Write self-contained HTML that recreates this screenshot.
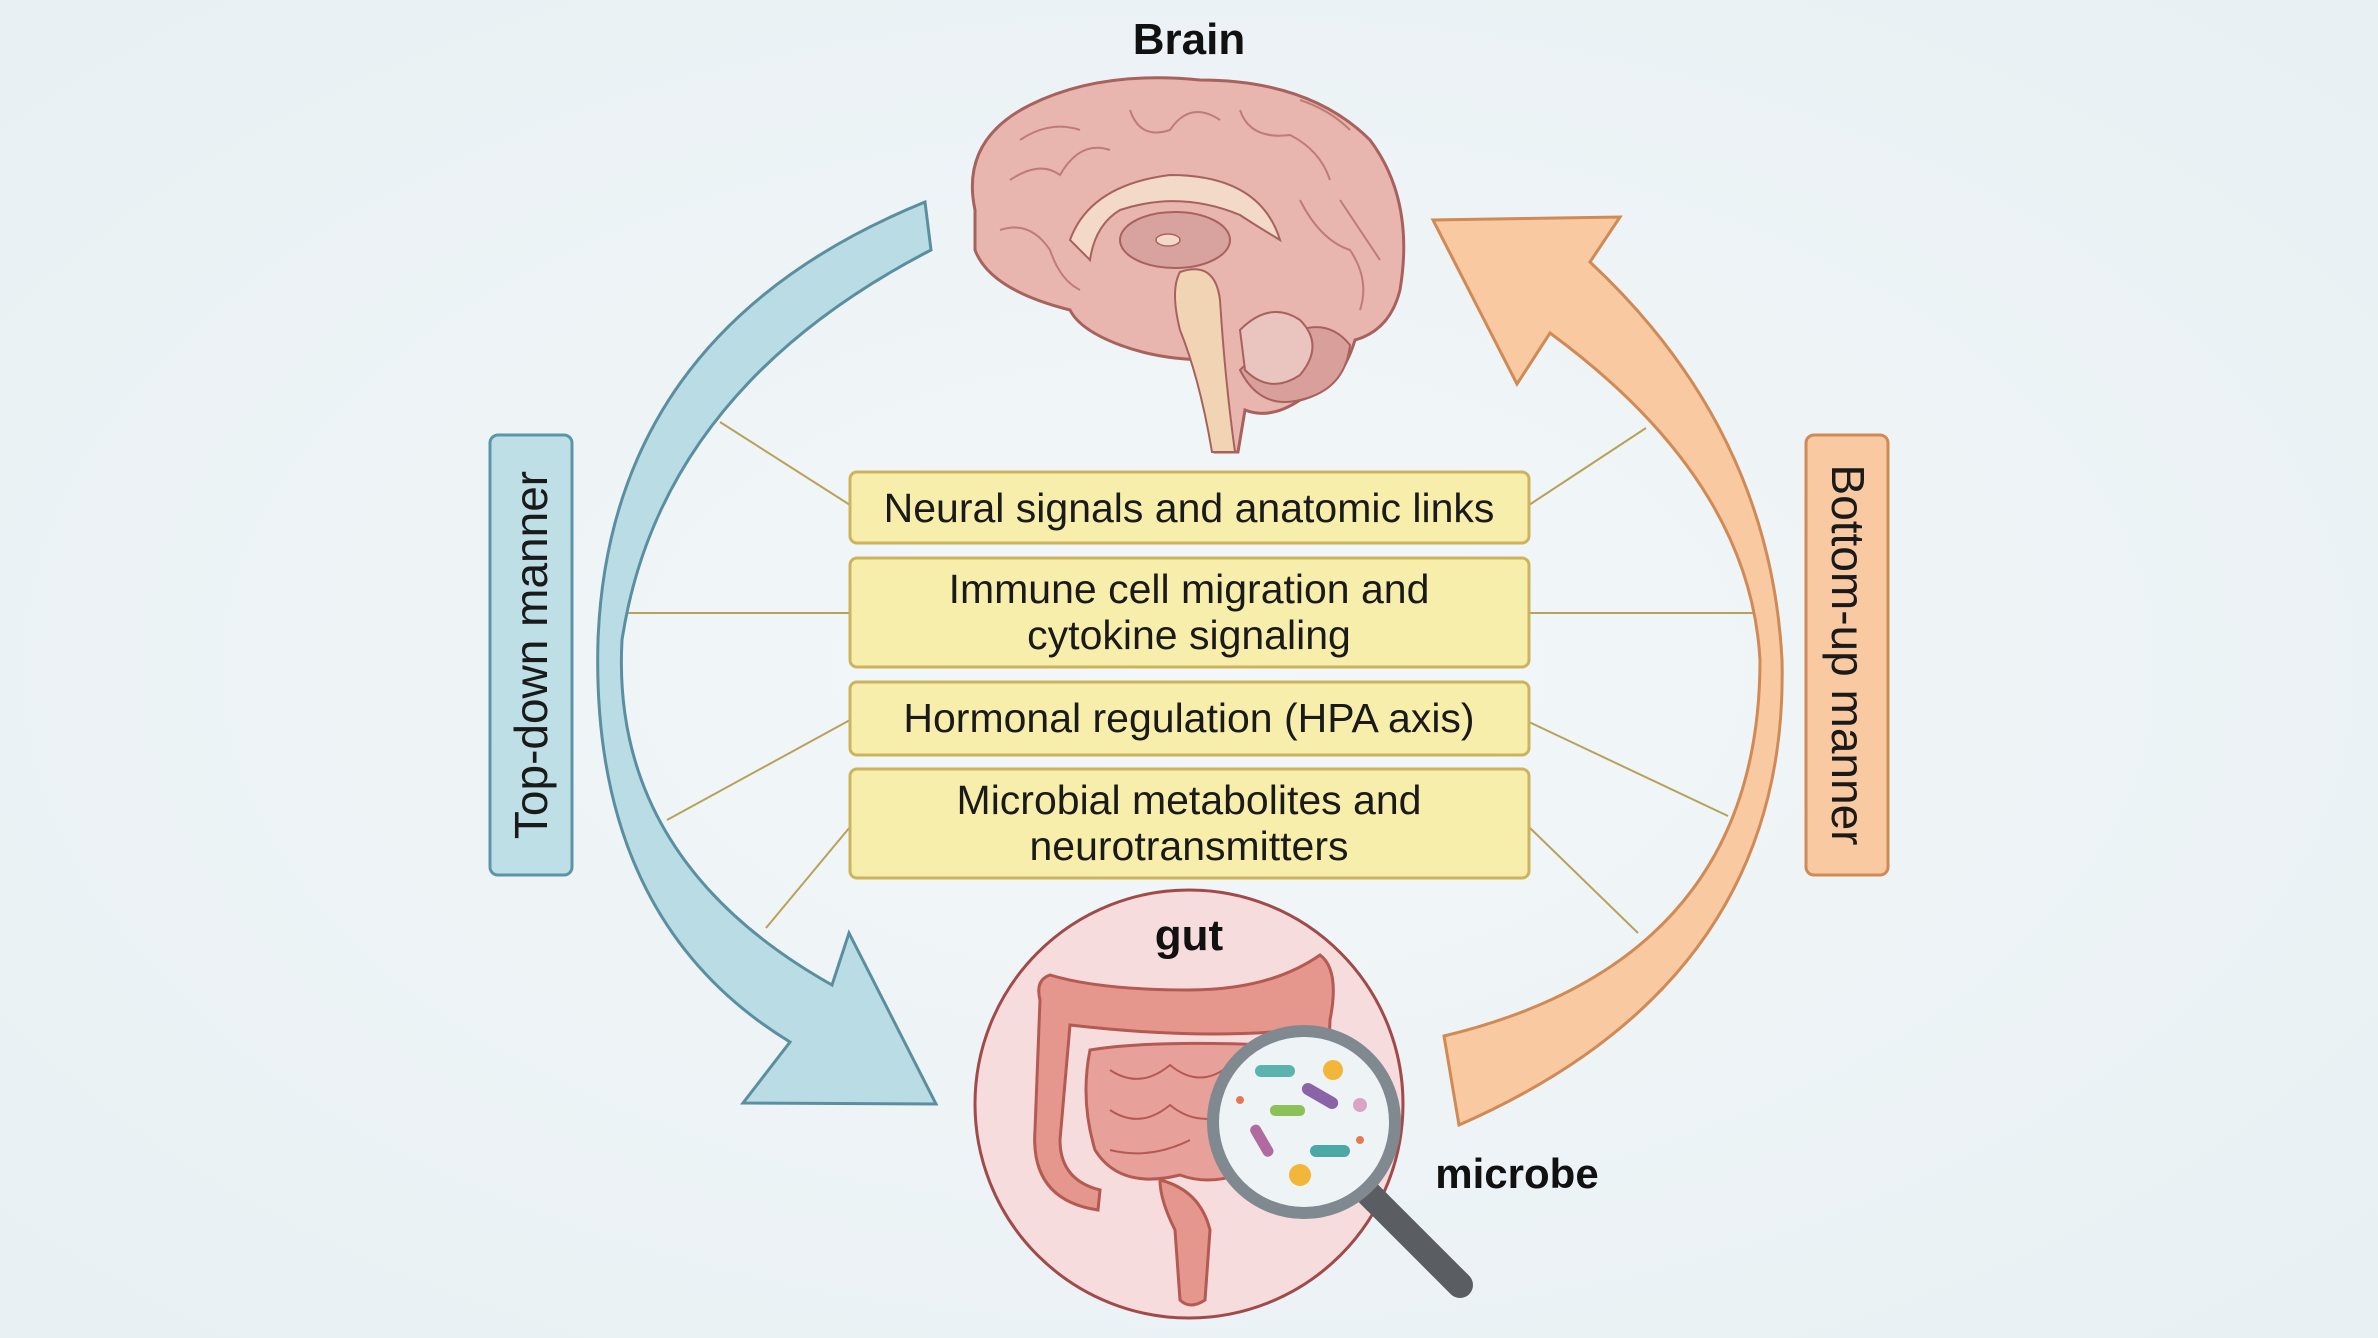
<!DOCTYPE html>
<html><head><meta charset="utf-8"><style>
html,body{margin:0;padding:0}
body{width:2378px;height:1338px;overflow:hidden;background:#eef3f6}
svg{display:block}
text{font-family:"Liberation Sans",sans-serif}
</style></head><body>
<svg width="2378" height="1338" viewBox="0 0 2378 1338" xmlns="http://www.w3.org/2000/svg">
<defs>
<radialGradient id="bg" cx="50%" cy="50%" r="70%"><stop offset="0" stop-color="#f3f7f9"/><stop offset="1" stop-color="#e8f0f3"/></radialGradient>
</defs>
<rect width="2378" height="1338" fill="url(#bg)"/>

<g stroke="#b8a25a" stroke-width="2">
<line x1="720" y1="422" x2="850" y2="505"/>
<line x1="622" y1="613" x2="850" y2="613"/>
<line x1="667" y1="820" x2="850" y2="720"/>
<line x1="766" y1="928" x2="850" y2="827"/>
<line x1="1529" y1="505" x2="1646" y2="428"/>
<line x1="1529" y1="613" x2="1760" y2="613"/>
<line x1="1529" y1="722" x2="1728" y2="816"/>
<line x1="1529" y1="827" x2="1638" y2="933"/>
</g>

<path d="M925,202 L931,250 Q660,390 622,640 Q610,860 832,985 L849,933 L936,1104 L743,1103 L790,1042 Q590,920 598,640 Q610,330 925,202 Z" fill="#b9dce5" stroke="#5b8fa0" stroke-width="3" stroke-linejoin="miter"/>

<path d="M1444,1036 L1459,1125 Q1790,980 1782,660 Q1770,430 1590,262 L1620,217 L1433,220 L1517,384 L1550,333 Q1750,480 1760,660 Q1760,960 1444,1036 Z" fill="#f9c9a2" stroke="#d08a55" stroke-width="3"/>

<rect x="490" y="435" width="82" height="440" rx="8" fill="#bfdfe7" stroke="#5b96a8" stroke-width="3"/>
<text transform="translate(547,655) rotate(-90)" text-anchor="middle" font-size="46" fill="#1a1a1a">Top-down manner</text>
<rect x="1806" y="435" width="82" height="440" rx="8" fill="#f9c9a2" stroke="#d08a55" stroke-width="3"/>
<text transform="translate(1832,655) rotate(90)" text-anchor="middle" font-size="46" fill="#1a1a1a">Bottom-up manner</text>

<g fill="#f8eeab" stroke="#cbb45c" stroke-width="3">
<rect x="850" y="472" width="679" height="71" rx="7"/>
<rect x="850" y="558" width="679" height="109" rx="7"/>
<rect x="850" y="682" width="679" height="73" rx="7"/>
<rect x="850" y="769" width="679" height="109" rx="7"/>
</g>
<g font-size="41" fill="#1a1a1a" text-anchor="middle">
<text x="1189" y="522">Neural signals and anatomic links</text>
<text x="1189" y="603">Immune cell migration and</text>
<text x="1189" y="649">cytokine signaling</text>
<text x="1189" y="732">Hormonal regulation (HPA axis)</text>
<text x="1189" y="814">Microbial metabolites and</text>
<text x="1189" y="860">neurotransmitters</text>
</g>

<text x="1189" y="54" text-anchor="middle" font-size="44" font-weight="bold" fill="#111">Brain</text>
<g stroke="#a8625e" stroke-width="3">
<path d="M975,210 Q960,140 1030,105 Q1100,70 1200,80 Q1310,80 1370,140 Q1415,200 1400,290 Q1390,330 1355,340 Q1340,390 1300,400 Q1270,420 1245,410 L1238,452 L1215,452 Q1210,400 1210,360 Q1160,360 1120,345 Q1080,330 1070,310 Q990,290 975,250 Z" fill="#e9b5af"/>
<path d="M1300,330 Q1330,320 1350,345 Q1345,390 1300,400 Q1260,410 1240,370 Q1270,340 1300,330 Z" fill="#d9a09b" stroke-width="2"/>
<path d="M1240,330 Q1270,300 1300,320 Q1325,345 1300,375 Q1270,395 1245,370 Z" fill="#eac4bf" stroke-width="2"/>
<path d="M1070,240 Q1090,185 1170,175 Q1260,175 1280,240 Q1255,225 1240,215 Q1180,190 1120,210 Q1095,225 1090,260 Z" fill="#f2d9c8" stroke-width="2"/>
<ellipse cx="1175" cy="240" rx="55" ry="28" fill="#d8a39e" stroke-width="2"/>
<ellipse cx="1168" cy="240" rx="12" ry="6" fill="#f2d9c8" stroke-width="1.5"/>
<path d="M1180,272 Q1215,260 1220,300 Q1225,380 1235,452 L1212,452 Q1200,380 1180,330 Q1170,290 1180,272 Z" fill="#f0d4b4" stroke-width="2"/>
</g>
<g fill="none" stroke="#b56e68" stroke-width="2" opacity="0.8">
<path d="M1010,180 Q1040,160 1060,175 Q1080,140 1110,150"/>
<path d="M1130,110 Q1140,140 1170,130 Q1190,100 1220,120"/>
<path d="M1240,110 Q1250,140 1290,135 Q1320,150 1330,180"/>
<path d="M1340,200 Q1360,230 1380,260"/>
<path d="M1000,230 Q1030,220 1050,250 Q1060,280 1080,290"/>
<path d="M1300,200 Q1320,240 1350,250 Q1370,280 1360,310"/>
<path d="M1020,140 Q1050,120 1080,130"/>
<path d="M1300,100 Q1330,110 1350,130"/>
</g>

<circle cx="1189" cy="1104" r="214" fill="#f6dcdc" stroke="#a04a4a" stroke-width="3"/>
<text x="1189" y="950" text-anchor="middle" font-size="44" font-weight="bold" fill="#111">gut</text>
<g stroke="#b45a52" stroke-width="3" fill="#e5968d">
<path d="M1050,975 Q1100,990 1189,990 Q1270,990 1320,955 Q1340,970 1330,1020 L1325,1150 Q1300,1180 1290,1150 L1295,1030 Q1200,1040 1070,1025 L1060,1140 Q1060,1180 1100,1190 L1098,1210 Q1030,1200 1035,1130 L1040,1000 Q1035,980 1050,975 Z"/>
<path d="M1090,1050 Q1150,1040 1270,1045 Q1295,1100 1270,1160 Q1220,1190 1180,1175 Q1120,1190 1095,1150 Q1080,1100 1090,1050 Z" fill="#e8a19a"/>
<path d="M1160,1180 Q1200,1190 1210,1230 L1205,1300 Q1190,1310 1180,1300 L1175,1230 Q1160,1200 1160,1180 Z"/>
</g>
<g fill="none" stroke="#b45a52" stroke-width="2">
<path d="M1110,1070 Q1140,1090 1170,1065 Q1200,1090 1230,1065"/>
<path d="M1110,1110 Q1140,1130 1170,1105 Q1200,1130 1240,1110"/>
<path d="M1110,1150 Q1150,1160 1190,1140"/>
</g>

<line x1="1360" y1="1185" x2="1460" y2="1285" stroke="#5a5e62" stroke-width="26" stroke-linecap="round"/>
<circle cx="1304" cy="1122" r="91" fill="#eef4f6" stroke="#808890" stroke-width="12"/>
<g stroke-width="0">
<rect x="1255" y="1065" width="40" height="12" rx="6" fill="#5ab3ad"/>
<rect x="1300" y="1090" width="40" height="12" rx="6" fill="#8a63a8" transform="rotate(30 1320 1096)"/>
<rect x="1270" y="1105" width="35" height="11" rx="5" fill="#8cc058"/>
<rect x="1245" y="1135" width="35" height="11" rx="5" fill="#b06aa0" transform="rotate(60 1262 1140)"/>
<rect x="1310" y="1145" width="40" height="12" rx="6" fill="#4aa8a5"/>
<circle cx="1333" cy="1070" r="10" fill="#f2b63a"/>
<circle cx="1300" cy="1175" r="11" fill="#f2b63a"/>
<circle cx="1360" cy="1105" r="7" fill="#d9a4c6"/>
<circle cx="1240" cy="1100" r="4" fill="#e07b55"/>
<circle cx="1360" cy="1140" r="4" fill="#e07b55"/>
</g>
<text x="1517" y="1188" text-anchor="middle" font-size="42" font-weight="bold" fill="#111">microbe</text>
</svg>
</body></html>
